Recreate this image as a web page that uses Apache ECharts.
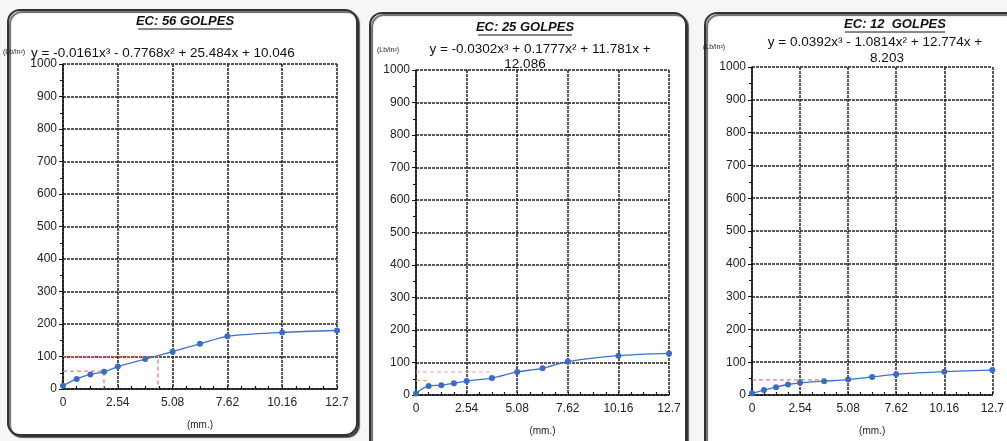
<!DOCTYPE html>
<html><head><meta charset="utf-8">
<script src="https://cdn.jsdelivr.net/npm/echarts@6/dist/echarts.min.js"></script>
<style>html,body{margin:0;padding:0;background:#f6f6f6}#c{width:1007px;height:441px}</style>
</head><body><div id="c"></div>
<script>
// ---- data ----
const xTickLabels = ['0', '2.54', '5.08', '7.62', '10.16', '12.7'];
const penetration = [0, 0.635, 1.27, 1.905, 2.54, 3.81, 5.08, 6.35, 7.62, 10.16, 12.7];
const load56 = [10, 31, 45, 53, 69, 92, 115, 139, 162, 174, 180];
const load25 = [5, 28, 30, 36, 43, 52, 71, 82, 103, 121, 128];
const load12 = [5, 15, 24, 32, 37, 42, 47, 55, 63, 71, 76];
const titles = ['EC: 56 GOLPES', 'EC: 25 GOLPES', 'EC: 12  GOLPES'];
const equations = [
  ['y = -0.0161x³ - 0.7768x² + 25.484x + 10.046'],
  ['y = -0.0302x³ + 0.1777x² + 11.781x +', '12.086'],
  ['y = 0.0392x³ - 1.0814x² + 12.774x +', '8.203']
];
const unitY = '(Lb/in²)';
const unitX = '(mm.)';
const ref56a = [[0, 100], [4.4, 100], [4.4, 0]];
const ref56b = [[0, 55], [1.9, 55], [1.9, 0]];
const ref25a = [[0, 71], [3.8, 71]];
const ref25b = [[0, 45], [0.6, 45]];
const ref12a = [[0, 46], [3.8, 46]];

const loads = [load56, load25, load12];
const refs = [[ref56a, ref56b], [ref25a, ref25b], [ref12a]];
const refColors = [['#e0585a', '#e0585a'], ['#ef9aa8', '#f0a060'], ['#e0585a']];

// ---- layout ----
const grids = [
  { left: 63, top: 64, width: 274, height: 325 },
  { left: 416, top: 70, width: 253, height: 327 },
  { left: 752, top: 67, width: 243, height: 330 }
];
const boxes = [
  { x: 8, y: 10, width: 349, height: 425 },
  { x: 370, y: 13, width: 316, height: 445 },
  { x: 705, y: 13, width: 330, height: 445 }
];
const titlePos = [[185, 21], [525, 27], [895, 24]];
const eqPos = [
  { unit: [3, 52], lines: [[31, 53, 'left']] },
  { unit: [377, 50], lines: [[540, 49, 'center'], [525, 64, 'center']] },
  { unit: [703, 47], lines: [[875, 42, 'center'], [887, 58, 'center']] }
];

const FONT = '"Liberation Sans", Arial, sans-serif';
const grid = '#222';

function fmtX(v) {
  const ticks = xTickLabels.map(Number);
  let best = 0;
  ticks.forEach((t, i) => { if (Math.abs(t - v) < Math.abs(ticks[best] - v)) best = i; });
  return xTickLabels[best];
}

const xAxis = [], yAxis = [], series = [], graphic = [];
grids.forEach((g, i) => {
  xAxis.push({
    type: 'value', gridIndex: i, min: 0, max: 12.7, interval: 2.54,
    axisLine: { show: true, onZero: false, lineStyle: { color: '#111', width: 1.5 } },
    axisTick: { show: true, inside: true, length: 3, lineStyle: { color: '#111' } },
    minorTick: { show: true, splitNumber: 4, length: 3, lineStyle: { color: '#111', width: 1.2 } },
    axisLabel: { formatter: fmtX, fontFamily: FONT, fontSize: 12, color: '#222', margin: 8 },
    splitLine: { show: true, lineStyle: { color: grid, width: 1.5, type: [3, 1] } },
    name: unitX, nameLocation: 'middle', nameGap: 31,
    nameTextStyle: { fontFamily: FONT, fontSize: 10, color: '#222' }
  });
  yAxis.push({
    type: 'value', gridIndex: i, min: 0, max: 1000, interval: 100,
    axisLine: { show: true, lineStyle: { color: '#111', width: 1.5 } },
    axisTick: { show: true, length: 4, lineStyle: { color: '#111' } },
    minorTick: { show: true, splitNumber: 2, length: 3, lineStyle: { color: '#111' } },
    axisLabel: { formatter: v => String(v), fontFamily: FONT, fontSize: 12, color: '#222', margin: 6 },
    splitLine: { show: true, lineStyle: { color: grid, width: 1.5, type: [3, 1] } }
  });
  refs[i].forEach((r, k) => {
    series.push({
      type: 'line', xAxisIndex: i, yAxisIndex: i, data: r, symbol: 'none', silent: true,
      lineStyle: { color: refColors[i][k], width: 1, type: [4, 3] }, z: 3
    });
  });
  series.push({
    type: 'line', xAxisIndex: i, yAxisIndex: i, smooth: 0.3,
    data: penetration.map((x, k) => [x, loads[i][k]]),
    symbol: 'circle', symbolSize: 6,
    itemStyle: { color: '#3b6cc2' },
    lineStyle: { color: '#3f72c8', width: 1.3 }, z: 4
  });
  // panel frame
  graphic.push({
    type: 'rect', z: -10, shape: Object.assign({ r: 12 }, boxes[i]),
    style: { fill: '#fff', stroke: '#333', lineWidth: 2, shadowColor: 'rgba(0,0,0,0.6)', shadowOffsetX: 2, shadowOffsetY: 2, shadowBlur: 1 }
  });
  // title + underline
  graphic.push({
    type: 'text', x: titlePos[i][0], y: titlePos[i][1], z: 5,
    style: { text: titles[i], font: 'italic bold 13px ' + FONT, fill: '#111', align: 'center', verticalAlign: 'middle' }
  });
  const half = i === 2 ? 50 : 47;
  graphic.push({
    type: 'line', z: 5,
    shape: { x1: titlePos[i][0] - half, y1: titlePos[i][1] + 8, x2: titlePos[i][0] + half, y2: titlePos[i][1] + 8 },
    style: { stroke: '#111', lineWidth: 1 }
  });
  // unit
  graphic.push({
    type: 'text', x: eqPos[i].unit[0], y: eqPos[i].unit[1], z: 5,
    style: { text: unitY, font: '7px ' + FONT, fill: '#222', align: 'left', verticalAlign: 'middle' }
  });
  equations[i].forEach((t, k) => {
    const p = eqPos[i].lines[k];
    graphic.push({
      type: 'text', x: p[0], y: p[1], z: 5,
      style: { text: t, font: '13.5px ' + FONT, fill: '#111', align: p[2], verticalAlign: 'middle' }
    });
  });
});

const chart = echarts.init(document.getElementById('c'), null, { renderer: 'canvas' });
chart.setOption({
  animation: false,
  backgroundColor: '#f6f6f6',
  grid: grids,
  xAxis, yAxis, series, graphic
});
</script>
</body></html>
